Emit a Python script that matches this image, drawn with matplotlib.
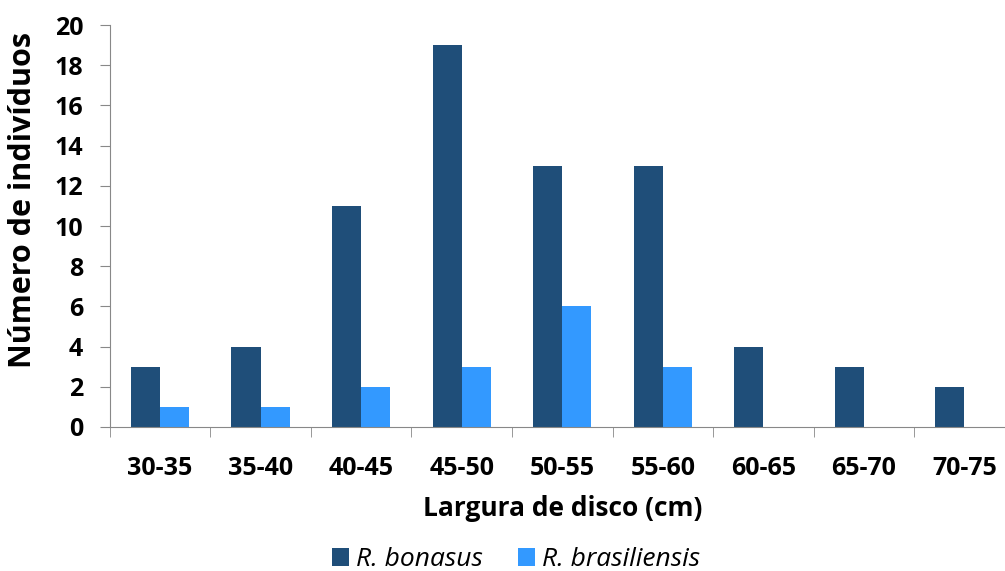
import matplotlib
matplotlib.use("Agg")
import matplotlib.pyplot as plt
import numpy as np

# Disc width classes (cm)
classes = ["30-35", "35-40", "40-45", "45-50", "50-55", "55-60", "60-65", "65-70", "70-75"]
bonasus = [3, 4, 11, 19, 13, 13, 4, 3, 2]
brasiliensis = [1, 1, 2, 3, 6, 3, 0, 0, 0]

plt.rcParams["font.family"] = ["Open Sans", "DejaVu Sans"]

fig = plt.figure(figsize=(10.05, 5.71), dpi=100)
ax = fig.add_axes([0.1092, 0.2522, 0.9005, 0.704])

x = np.arange(len(classes))
w = 0.29
ax.bar(x - w / 2, bonasus, w, color="#1F4E79", label="R. bonasus")
ax.bar(x + w / 2, brasiliensis, w, color="#3399FF", label="R. brasiliensis")

ax.set_xlim(-0.5, len(classes) - 0.5)
ax.set_ylim(0, 20)
ax.set_yticks(range(0, 21, 2))
ax.set_xticks(x)
ax.set_xticklabels(classes)
ax.set_xticks(np.arange(-0.5, len(classes), 1.0), minor=True)

for s in ["top", "right"]:
    ax.spines[s].set_visible(False)
ax.spines["left"].set_color("#888888")
ax.spines["bottom"].set_color("#888888")

ax.tick_params(axis="y", length=7, color="#888888", labelsize=18, pad=12)
ax.tick_params(axis="x", which="major", length=0, labelsize=18, pad=21)
ax.tick_params(axis="x", which="minor", length=7, color="#888888")
for lab in ax.get_xticklabels() + ax.get_yticklabels():
    lab.set_fontweight("bold")

fig.text(23 / 1005, 1 - 200 / 571, "Número de indivíduos", rotation=90,
         ha="center", va="center", fontsize=22, fontweight="bold")
ax.set_xlabel("Largura de disco (cm)", fontsize=19, fontweight="bold", labelpad=10)

leg = fig.legend(loc="center", bbox_to_anchor=(516 / 1005, 1 - 560 / 571), ncol=2, frameon=False,
                 prop={"style": "italic", "size": 19}, handlelength=0.65, handleheight=0.65,
                 handletextpad=0.25, columnspacing=1.35, borderpad=0)

fig.savefig("out.png", dpi=100)
